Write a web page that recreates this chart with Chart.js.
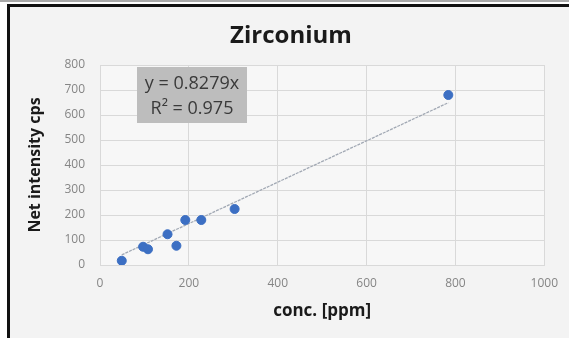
<!DOCTYPE html>
<html>
<head>
<meta charset="utf-8">
<script src="https://cdn.jsdelivr.net/npm/chart.js@4/dist/chart.umd.min.js"></script>
<style>
    html, body { margin: 0; padding: 0; background: #ffffff; }
    #wrap { position: relative; width: 569px; height: 338px; }
</style>
</head>
<body>
<div id="wrap"><canvas id="zr-chart" width="569" height="338"></canvas></div>
<script>
// Calibration points: concentration (ppm) vs net intensity (cps)
const concPpm = [49, 97, 108, 152, 172, 192, 228, 303, 784];
const intensityCps = [17, 73, 63, 123, 77, 180, 180, 224, 680];

// Linear fit through the origin, as printed in the label
const trendSlope = 0.8279;
const trendR2 = 0.975;

const xTicks = [0, 200, 400, 600, 800, 1000];
const yTicks = [0, 100, 200, 300, 400, 500, 600, 700, 800];

const chartTitle = 'Zirconium';
const xTitle = 'conc. [ppm]';
const yTitle = 'Net intensity cps';

Chart.defaults.font.family = '"Open Sans", "Noto Sans", sans-serif';

const points = concPpm.map((x, i) => ({ x: x, y: intensityCps[i] }));
const xMin = Math.min(...concPpm);
const xMax = Math.max(...concPpm);
const trendPoints = [
    { x: xMin, y: trendSlope * xMin },
    { x: xMax, y: trendSlope * xMax }
];

// Frame, title and equation box
const framePlugin = {
    id: 'framePlugin',
    beforeDraw(chart) {
        const { ctx, width, height, chartArea } = chart;
        ctx.save();
        ctx.fillStyle = '#ffffff';
        ctx.fillRect(0, 0, width, height);
        // thin grey strip along the top
        ctx.fillStyle = '#a9a9a9';
        ctx.fillRect(0, 0, width, 2);
        // chart body
        ctx.fillStyle = '#f3f3f3';
        ctx.fillRect(7, 4, width - 7, height - 4);
        // dark frame on top and left
        ctx.fillStyle = '#111111';
        ctx.fillRect(7, 4, width - 7, 3);
        ctx.fillRect(7, 4, 3, height - 4);
        // plot background
        ctx.fillStyle = '#f7f7f7';
        ctx.fillRect(chartArea.left, chartArea.top,
            chartArea.right - chartArea.left, chartArea.bottom - chartArea.top);
        ctx.restore();
    },
    afterDraw(chart) {
        const { ctx, chartArea } = chart;
        ctx.save();
        // title, centred on the chart body
        ctx.fillStyle = '#1a1a1a';
        ctx.font = 'bold 24px "Open Sans", sans-serif';
        ctx.textAlign = 'center';
        ctx.textBaseline = 'middle';
        ctx.fillText(chartTitle, 291, 36);

        // equation label
        const bx = chartArea.left + 37;
        const by = chartArea.top + 2;
        const bw = 110, bh = 56;
        ctx.fillStyle = '#bdbdbd';
        ctx.fillRect(bx, by, bw, bh);
        ctx.fillStyle = '#3a3a3a';
        ctx.font = '18px "Open Sans", sans-serif';
        ctx.fillText('y = ' + trendSlope + 'x', bx + bw / 2, by + 17);
        ctx.fillText('R\u00B2 = ' + trendR2, bx + bw / 2, by + 42);
        ctx.restore();
    }
};

const gridColor = '#d9d9d9';
const tickColor = '#858585';

new Chart(document.getElementById('zr-chart'), {
    type: 'scatter',
    data: {
        datasets: [
            {
                data: points,
                backgroundColor: '#3c6fc3',
                borderColor: '#3c6fc3',
                pointRadius: 4.5,
                pointHoverRadius: 4.5,
                order: 0
            },
            {
                type: 'line',
                data: trendPoints,
                borderColor: '#a2a9b4',
                borderWidth: 1.3,
                borderDash: [3, 1],
                pointRadius: 0,
                fill: false,
                tension: 0,
                order: 1
            }
        ]
    },
    options: {
        responsive: false,
        animation: false,
        layout: {
            padding: { left: 26, right: 23, top: 65, bottom: 13 }
        },
        plugins: {
            legend: { display: false },
            tooltip: { enabled: false },
            title: { display: false }
        },
        scales: {
            x: {
                type: 'linear',
                min: xTicks[0],
                max: xTicks[xTicks.length - 1],
                afterBuildTicks: (scale) => {
                    scale.ticks = xTicks.map(v => ({ value: v }));
                },
                afterFit: (scale) => { scale.height = 60; },
                grid: { color: gridColor, drawTicks: false },
                border: { color: gridColor },
                ticks: {
                    color: tickColor,
                    font: { size: 12 },
                    padding: 11,
                    maxRotation: 0,
                    callback: (val) => String(val)
                },
                title: {
                    display: true,
                    text: xTitle,
                    color: '#1a1a1a',
                    font: { size: 17, weight: 'bold' },
                    padding: { top: 4, bottom: 4 }
                }
            },
            y: {
                type: 'linear',
                min: yTicks[0],
                max: yTicks[yTicks.length - 1],
                afterBuildTicks: (scale) => {
                    scale.ticks = yTicks.map(v => ({ value: v }));
                },
                afterFit: (scale) => { scale.width = 74; },
                grid: { color: gridColor, drawTicks: false },
                border: { color: gridColor },
                ticks: {
                    color: tickColor,
                    font: { size: 12 },
                    padding: 15,
                    callback: (val) => String(val)
                },
                title: {
                    display: true,
                    text: yTitle,
                    color: '#1a1a1a',
                    font: { size: 16, weight: 'bold' },
                    padding: 0
                }
            }
        }
    },
    plugins: [framePlugin]
});
</script>
</body>
</html>
